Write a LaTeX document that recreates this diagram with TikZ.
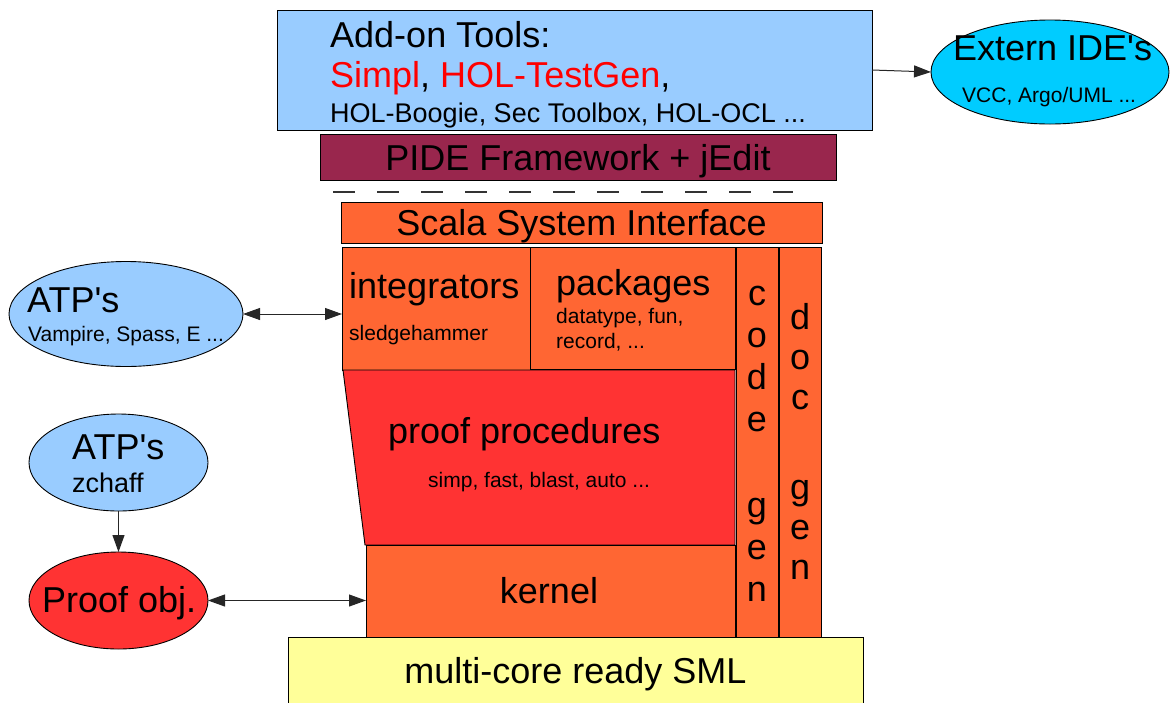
\documentclass[tikz,border=0pt]{standalone}
\usepackage{fontspec}
\setmainfont{Liberation Sans}[Ligatures=TeXOff]
\usetikzlibrary{shapes.geometric,arrows.meta}
\definecolor{lblue}{HTML}{99CCFF}
\definecolor{maroon}{RGB}{153,38,77}
\definecolor{orng}{HTML}{FF6633}
\definecolor{rred}{HTML}{FF3333}
\definecolor{lyel}{HTML}{FFFF99}
\definecolor{cyanide}{HTML}{00CCFF}
\definecolor{pured}{HTML}{FF0000}
\tikzset{
  box/.style={draw=black, line width=0.9pt, inner sep=0pt, outer sep=0pt},
  ell/.style={ellipse, draw=black, line width=0.9pt, inner sep=0pt, outer sep=0pt},
  big/.style={font=\fontsize{36}{43}\selectfont},
  mid/.style={font=\fontsize{27}{32}\selectfont},
  small/.style={font=\fontsize{21}{25}\selectfont},
  lbl/.style={inner sep=0pt, anchor=base west},
  clbl/.style={inner sep=0pt, anchor=base},
  conn/.style={line width=1pt, draw=black!85, -{Triangle[length=17pt,width=12pt]}},
  bconn/.style={line width=1pt, draw=black!85, {Triangle[length=17pt,width=12pt]}-{Triangle[length=17pt,width=12pt]}},
  dashline/.style={line width=1.6pt, draw=black!80, dash pattern=on 21.9pt off 22.1pt}
}
\begin{document}
\begin{tikzpicture}[x=1pt,y=-1pt]
\useasboundingbox (0,0) rectangle (1172,702);
% main boxes
\node[box, fill=lblue, minimum width=595pt, minimum height=120pt] (addon) at (574.5,70) {};
\node[box, fill=maroon, minimum width=516pt, minimum height=46pt] (pide) at (578,157) {};
\node[box, fill=orng, minimum width=481pt, minimum height=41pt] (scala) at (581.5,222.5) {};
\node[box, fill=orng, minimum width=188pt, minimum height=123pt] (integ) at (436,308.5) {};
\node[box, fill=orng, minimum width=205pt, minimum height=122pt] (pack) at (632.5,308) {};
\node[box, fill=orng, minimum width=42pt, minimum height=390pt] (codegen) at (757,442) {};
\node[box, fill=orng, minimum width=42pt, minimum height=390pt] (docgen) at (800,442) {};
\coordinate (pp1) at (343,370);
\coordinate (pp2) at (735,370);
\coordinate (pp3) at (735,545);
\coordinate (pp4) at (365,545);
\draw[line width=0.9pt, fill=rred] (pp1) -- (pp2) -- (pp3) -- (pp4) -- cycle;
\node[box, fill=orng, minimum width=369pt, minimum height=92pt] (kernel) at (550.5,591) {};
\node[box, fill=lyel, minimum width=575pt, minimum height=68pt] (sml) at (575.5,671) {};
% dashed separator
\draw[dashline] (333,192) -- (793,192);
% ellipses
\node[ell, fill=cyanide, minimum width=238pt, minimum height=104pt] (ide) at (1050,72) {};
\node[ell, fill=lblue, minimum width=234pt, minimum height=105pt] (atpa) at (126,314) {};
\node[ell, fill=lblue, minimum width=179pt, minimum height=97pt] (atpb) at (118.5,462.5) {};
\node[ell, fill=rred, minimum width=179pt, minimum height=97pt] (pobj) at (118.5,600.5) {};
% texts
\node[lbl, big] (t1) at (330,47) {Add-on Tools:};
\node[lbl, big] (t2) at (330,87) {{\color{pured}Simpl}, {\color{pured}HOL-TestGen},};
\node[lbl, mid] (t3) at (330,122) {HOL-Boogie, Sec Toolbox, HOL-OCL ...};
\node[clbl, big] (tpide) at (578,170) {PIDE Framework + jEdit};
\node[clbl, big] (tscala) at (581.5,235) {Scala System Interface};
\node[lbl, big] (tint) at (349,298) {integrators};
\node[lbl, small] (tsledge) at (349,340) {sledgehammer};
\node[lbl, big] (tpack) at (556,295) {packages};
\node[lbl, small] (tdt) at (556,323) {datatype, fun,};
\node[lbl, small] (trec) at (556,348) {record, ...};
\node[lbl, big] (tpp) at (388,443) {proof procedures};
\node[lbl, small] (tsimp) at (428,487) {simp, fast, blast, auto ...};
\node[clbl, big] (tkern) at (549,603) {kernel};
\node[clbl, big] (tsml) at (575.5,683) {multi-core ready SML};
\node[inner sep=0pt, anchor=south, align=center, font=\fontsize{36}{42}\selectfont] (tcode) at (757,602) {c\\o\\d\\e\\[44pt]g\\e\\n};
\node[inner sep=0pt, anchor=south, align=center, font=\fontsize{36}{40}\selectfont] (tdoc) at (800,580) {d\\o\\c\\[50pt]g\\e\\n};
\node[lbl, big] (tide) at (953,60) {Extern IDE's};
\node[lbl, small] (tvcc) at (962,102) {VCC, Argo/UML ...};
\node[lbl, big] (tatpa) at (27,312) {ATP's};
\node[lbl, small] (tvamp) at (28,341) {Vampire, Spass, E ...};
\node[lbl, big] (tatpb) at (72,459) {ATP's};
\node[lbl, mid] (tzch) at (72,492) {zchaff};
\node[lbl, big] (tpobj) at (42,612) {Proof obj.};
% connectors
\draw[conn] (addon.east) -- (ide.west);
\draw[bconn] (atpa.east) -- (integ.west |- atpa.east);
\draw[conn] (atpb.south) -- (pobj.north);
\draw[bconn] (pobj.east) -- (kernel.west |- pobj.east);
\end{tikzpicture}
\end{document}
